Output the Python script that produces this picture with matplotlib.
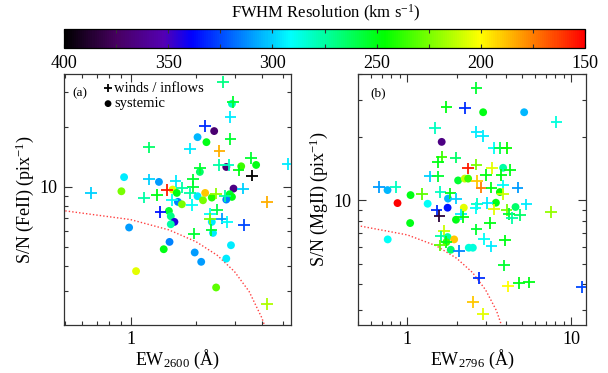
import numpy as np
import matplotlib
matplotlib.use("Agg")
import matplotlib.pyplot as plt
from matplotlib.colors import LinearSegmentedColormap, Normalize
from matplotlib.ticker import FixedLocator, NullFormatter, FixedFormatter
from matplotlib.cm import ScalarMappable

plt.rcParams['font.family'] = ['Liberation Serif', 'DejaVu Serif']
plt.rcParams['mathtext.fontset'] = 'custom'
plt.rcParams['mathtext.rm'] = 'Liberation Serif'
plt.rcParams['mathtext.it'] = 'Liberation Serif:italic'

# ---- Fe II panel: outflow / inflow detections (plus) ----
ew_a_wind = [2.65, 2.95, 2.87, 2.20, 2.87, 1.215, 1.88, 2.56, 3.56, 3.13, 2.54, 2.82, 2.09, 3.60,
             5.26, 1.215, 1.61, 1.94, 1.94, 0.658, 1.47, 1.72, 1.32, 1.15, 1.88, 2.47, 2.72, 3.28,
             1.55, 1.92, 4.22, 1.37, 2.31, 2.49, 2.32, 2.63, 2.77, 3.32, 1.96, 2.35, 4.22]
sn_a_wind = [33.7, 26.7, 22.5, 20.2, 17.4, 15.8, 15.6, 15.2, 14.0, 12.1, 12.9, 12.9, 12.4, 11.4,
             13.0, 10.9, 10.7, 10.9, 10.0, 9.33, 9.62, 9.92, 9.08, 8.84, 9.33, 9.26, 8.98, 9.81,
             8.57, 8.09, 8.41, 7.49, 7.35, 7.69, 6.93, 6.93, 6.67, 6.42, 5.83, 6.06, 2.57]
fw_a_wind = [270, 255, 295, 330, 255, 265, 295, 185, 255, 250, 275, 280, 255, 400,
             295, 300, 295, 255, 255, 300, 155, 275, 250, 275, 275, 220, 275, 300,
             290, 290, 185, 335, 290, 260, 225, 310, 290, 325, 255, 255, 215]

# ---- Fe II panel: systemic ----
ew_a_sys = [2.92, 2.42, 2.03, 2.23, 3.77, 3.22, 2.75, 2.08, 0.934, 1.35, 0.908, 1.56, 1.63,
            2.03, 2.20, 2.15, 2.36, 2.97, 2.85, 2.92, 2.75, 1.65, 1.72, 1.50, 1.53, 1.59,
            1.53, 2.36, 0.985, 2.39, 1.51, 1.42, 2.89, 1.97, 2.11, 2.75, 1.06, 2.47]
sn_a_sys = [26.2, 19.1, 17.8, 16.8, 12.9, 12.7, 12.6, 11.9, 11.2, 10.6, 9.51, 9.70, 9.33,
            8.98, 9.33, 8.57, 8.84, 9.81, 9.19, 8.91, 8.64, 8.41, 8.18, 7.57, 7.12, 6.67,
            6.49, 6.67, 6.25, 5.87, 5.29, 4.86, 5.09, 4.68, 4.20, 4.36, 3.77, 3.12]
fw_a_sys = [280, 370, 305, 250, 250, 235, 370, 265, 295, 310, 225, 205, 250,
            295, 190, 225, 240, 365, 255, 250, 315, 315, 225, 255, 270, 345,
            275, 295, 310, 295, 315, 250, 295, 310, 310, 295, 205, 230]

# ---- Mg II panel: outflow / inflow detections (plus) ----
ew_b_wind = [2.64, 1.73, 2.24, 8.12, 1.47, 2.64, 2.90, 3.39, 3.67, 4.03, 1.62, 1.54, 1.97, 2.35,
             2.64, 3.29, 4.22, 1.37, 1.54, 2.67, 3.01, 3.75, 2.83, 3.26, 3.84, 3.84, 4.70, 0.67,
             0.847, 1.23, 1.59, 1.83, 1.98, 1.51, 1.57, 2.12, 2.19, 2.67, 2.61, 3.08, 3.39, 4.03,
             4.16, 4.36, 4.85, 5.33, 7.50, 2.64, 3.20, 1.68, 1.60, 1.73, 1.58, 2.06, 2.93, 3.26,
             3.93, 3.90, 2.74, 4.12, 4.79, 5.51, 11.65, 2.52, 2.90]
sn_b_wind = [34.4, 27.8, 27.6, 23.6, 22.1, 21.2, 20.2, 17.8, 17.8, 17.8, 16.1, 15.2, 16.0, 14.2,
             14.8, 14.3, 14.0, 13.0, 13.0, 12.4, 13.2, 13.2, 11.5, 11.5, 11.8, 10.7, 11.5, 11.6,
             11.6, 10.7, 11.0, 10.8, 10.2, 8.96, 8.42, 8.58, 8.33, 9.64, 9.23, 9.71, 9.06, 9.03,
             8.64, 8.27, 8.54, 9.57, 8.80, 7.28, 7.82, 7.14, 6.74, 6.33, 6.11, 5.74, 6.57, 6.04,
             6.45, 4.90, 4.28, 3.89, 4.04, 4.07, 3.87, 3.28, 2.87]
fw_b_wind = [255, 250, 330, 285, 280, 295, 295, 290, 260, 245, 235, 250, 265, 155,
             225, 205, 250, 300, 255, 190, 250, 250, 175, 250, 290, 210, 310, 310,
             280, 230, 280, 250, 300, 330, 385, 295, 250, 280, 290, 295, 205, 225,
             255, 275, 265, 295, 220, 255, 250, 210, 275, 250, 230, 315, 290, 295,
             250, 255, 330, 200, 250, 250, 325, 190, 205]

# ---- Mg II panel: systemic ----
ew_b_sys = [2.90, 5.16, 1.62, 3.84, 2.04, 2.24, 2.35, 3.67, 0.757, 1.046, 0.871, 1.33, 1.77,
            1.76, 2.21, 1.98, 3.47, 4.57, 1.04, 0.759, 1.76, 1.73, 1.93, 1.84, 2.37, 2.51]
sn_b_sys = [26.3, 26.3, 19.0, 14.3, 12.45, 12.7, 12.7, 10.96, 11.2, 10.6, 9.71, 9.64, 10.2,
            9.23, 9.23, 8.09, 9.75, 9.30, 7.80, 6.52, 6.69, 6.33, 6.52, 5.82, 5.95, 5.95]
fw_b_sys = [250, 305, 365, 275, 255, 210, 235, 245, 305, 250, 150, 290, 305,
            335, 205, 250, 250, 265, 250, 290, 275, 235, 190, 265, 285, 285]

# detection limit curve
lim_ew = [0.45, 1.0, 1.5, 2.0, 2.5, 3.0, 3.5, 4.0, 4.2]
lim_sn = [7.7, 6.85, 6.08, 5.3, 4.53, 3.75, 2.98, 2.2, 1.9]

cbar_ticks = [150, 175, 200, 225, 250, 275, 300, 325, 350, 375, 400]
cbar_labels = ['150', '', '200', '', '250', '', '300', '', '350', '', '400']

# black -> purple -> blue -> cyan -> green -> yellow -> red, low resolution on the left
nodes = [(0.0, (0, 0, 0)), (0.10, (0.28, 0.0, 0.38)), (0.19, (0.33, 0.0, 0.70)),
         (0.245, (0.0, 0.0, 1.0)), (0.434, (0.0, 1.0, 1.0)), (0.615, (0.0, 1.0, 0.0)),
         (0.80, (1.0, 1.0, 0.0)), (1.0, (1.0, 0.0, 0.0))]
rainbow = LinearSegmentedColormap.from_list('idl_rainbow', nodes).reversed()
norm = Normalize(vmin=150, vmax=400)

W, H = 608, 373
fig = plt.figure(figsize=(W / 100, H / 100), dpi=100)

def box(x0, y0, x1, y1):
    return [x0 / W, 1 - y1 / H, (x1 - x0) / W, (y1 - y0) / H]

ax_a = fig.add_axes(box(64, 74, 291, 325))
ax_b = fig.add_axes(box(358, 74, 586, 325))
cax = fig.add_axes(box(64, 29, 585, 48))

tick_fs = 13

def style_axes(ax, xlim, ylim, xmajor, ymajor):
    ax.set_xscale('log')
    ax.set_yscale('log')
    ax.set_xlim(*xlim)
    ax.set_ylim(*ylim)
    ax.xaxis.set_major_locator(FixedLocator(xmajor))
    ax.xaxis.set_major_formatter(FixedFormatter([f'{v:g}' for v in xmajor]))
    ax.yaxis.set_major_locator(FixedLocator(ymajor))
    ax.yaxis.set_major_formatter(FixedFormatter([f'{v:g}' for v in ymajor]))
    minor = [m * 10.0 ** e for e in range(-1, 3) for m in range(2, 10)]
    ax.xaxis.set_minor_locator(FixedLocator(minor))
    ax.yaxis.set_minor_locator(FixedLocator(minor))
    ax.xaxis.set_minor_formatter(NullFormatter())
    ax.yaxis.set_minor_formatter(NullFormatter())
    ax.tick_params(which='both', direction='in', top=True, right=True,
                   labelsize=tick_fs, width=0.8, color='#333333')
    ax.tick_params(which='major', length=6)
    ax.tick_params(axis='x', which='major', pad=4)
    ax.tick_params(axis='y', which='major', pad=5)
    ax.tick_params(which='minor', length=3)
    for s in ax.spines.values():
        s.set_linewidth(0.9)
        s.set_color('#333333')

def draw(ax, ew_w, sn_w, fw_w, ew_s, sn_s, fw_s):
    ax.plot(lim_ew, lim_sn, ls=(0, (1, 1.5)), color='#ff4040', lw=1.0, zorder=1)
    ax.scatter(ew_s, sn_s, c=fw_s, cmap=rainbow, norm=norm, marker='o', s=32,
               edgecolors='none', zorder=2)
    ax.scatter(ew_w, sn_w, c=fw_w, cmap=rainbow, norm=norm, marker='+', s=70,
               linewidths=1.3, zorder=3)

draw(ax_a, ew_a_wind, sn_a_wind, fw_a_wind, ew_a_sys, sn_a_sys, fw_a_sys)
draw(ax_b, ew_b_wind, sn_b_wind, fw_b_wind, ew_b_sys, sn_b_sys, fw_b_sys)

style_axes(ax_a, (0.495, 5.45), (2.02, 37.0), [1], [10])
style_axes(ax_b, (0.50, 12.3), (2.55, 40.0), [1, 10], [10])

ax_a.set_xlabel(r'EW$_{\rm 2600}$ (Å)', fontsize=13, labelpad=0)
ax_b.set_xlabel(r'EW$_{\rm 2796}$ (Å)', fontsize=13, labelpad=0)
ax_a.set_ylabel(r'S/N (FeII) (pix$^{-1}$)', fontsize=13, labelpad=2)
ax_b.set_ylabel(r'S/N (MgII) (pix$^{-1}$)', fontsize=13, labelpad=2)

ax_a.text(0.07, 0.925, '(a)', transform=ax_a.transAxes, fontsize=9.5, ha='center', va='center')
ax_b.text(0.088, 0.925, '(b)', transform=ax_b.transAxes, fontsize=9.5, ha='center', va='center')

# legend drawn by hand
ax_a.scatter([0.194], [0.943], marker='+', s=40, color='black', linewidths=1.3,
             transform=ax_a.transAxes, clip_on=False)
ax_a.scatter([0.194], [0.882], marker='o', s=24, color='black', edgecolors='none',
             transform=ax_a.transAxes, clip_on=False)
ax_a.text(0.222, 0.943, 'winds / inflows', transform=ax_a.transAxes, fontsize=10.5, va='center')
ax_a.text(0.222, 0.882, 'systemic', transform=ax_a.transAxes, fontsize=10.5, va='center')

# colour bar
sm = ScalarMappable(norm=norm, cmap=rainbow)
cb = fig.colorbar(sm, cax=cax, orientation='horizontal')
cb.outline.set_linewidth(0.9)
cax.invert_xaxis()
cax.xaxis.set_major_locator(FixedLocator(cbar_ticks))
cax.xaxis.set_major_formatter(FixedFormatter(cbar_labels))
cax.tick_params(direction='in', top=True, bottom=True, length=3, width=0.8,
                labelsize=tick_fs, pad=5, color='#333333')
fig.text(326 / W, 1 - 13 / H, r'FWHM Resolution (km s$^{-1}$)', ha='center', va='center',
         fontsize=12)

fig.savefig('out.png', dpi=100)
